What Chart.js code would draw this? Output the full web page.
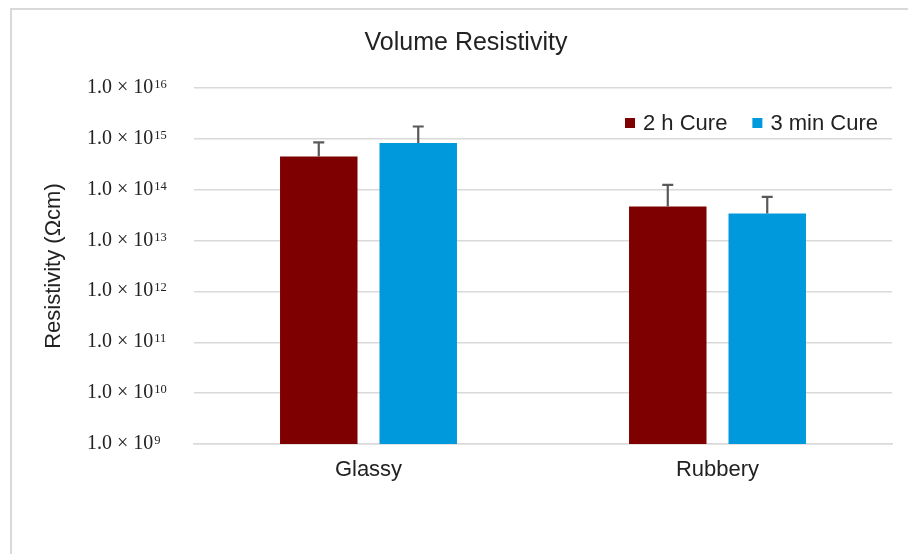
<!DOCTYPE html>
<html>
<head>
<meta charset="utf-8">
<script src="https://cdn.jsdelivr.net/npm/chart.js@4.4.1/dist/chart.umd.min.js"></script>
<style>
  html, body { margin: 0; padding: 0; background: #fff; }
  canvas { display: block; }
</style>
</head>
<body>
<canvas id="chart" width="908" height="554"></canvas>
<script>
// Volume resistivity (Ωcm) of the two cure schedules, glassy and rubbery state
const categories = ['Glassy', 'Rubbery'];
const seriesNames = ['2 h Cure', '3 min Cure'];
const cure2h = [4.5e14, 4.7e13];
const cure3min = [8.3e14, 3.4e13];
// positive standard deviation for each bar
const cure2hErr = [4.0e14, 7.8e13];
const cure3minErr = [9.2e14, 3.8e13];
// decades shown on the resistivity axis (10^n)
const tickExponents = [9, 10, 11, 12, 13, 14, 15, 16];
const seriesColors = ['#7f0000', '#0099db'];

const SANS = '"Liberation Sans", Arial, sans-serif';
const SERIF = '"Liberation Serif", "Times New Roman", serif';
const TEXT = '#222222';

// white page plus the light frame around the chart
const framePlugin = {
  id: 'frame',
  beforeDraw(chart) {
    const ctx = chart.ctx;
    ctx.save();
    ctx.fillStyle = '#ffffff';
    ctx.fillRect(0, 0, chart.width, chart.height);
    ctx.strokeStyle = '#d9d9d9';
    ctx.lineWidth = 2;
    ctx.strokeRect(11, 9, chart.width + 20, chart.height + 20);
    ctx.restore();
  }
};

// upward error bars with a cap
const errorBarPlugin = {
  id: 'errorBars',
  afterDatasetsDraw(chart) {
    const ctx = chart.ctx;
    const yScale = chart.scales.y;
    chart.data.datasets.forEach((ds, di) => {
      const meta = chart.getDatasetMeta(di);
      meta.data.forEach((bar, i) => {
        const top = yScale.getPixelForValue(ds.data[i] + ds.errorPlus[i]);
        ctx.save();
        ctx.strokeStyle = '#595959';
        ctx.lineWidth = 2.2;
        ctx.beginPath();
        ctx.moveTo(bar.x, bar.y);
        ctx.lineTo(bar.x, top);
        ctx.moveTo(bar.x - 5.5, top);
        ctx.lineTo(bar.x + 5.5, top);
        ctx.stroke();
        ctx.restore();
      });
    });
  }
};

// "1.0 × 10^n" tick labels with a raised exponent
const powerTickPlugin = {
  id: 'powerTicks',
  afterDraw(chart) {
    const ctx = chart.ctx;
    const yScale = chart.scales.y;
    const x0 = 87;
    ctx.save();
    ctx.fillStyle = TEXT;
    ctx.textAlign = 'left';
    ctx.textBaseline = 'alphabetic';
    tickExponents.forEach(e => {
      const py = yScale.getPixelForValue(Math.pow(10, e));
      const main = '1.0 × 10';
      ctx.font = '20px ' + SERIF;
      ctx.fillText(main, x0, py + 5);
      const w = ctx.measureText(main).width;
      ctx.font = '12.5px ' + SERIF;
      ctx.fillText(String(e), x0 + w + 1, py);
    });
    ctx.restore();
  }
};

// legend row inside the plot, top right
const legendRowPlugin = {
  id: 'legendRow',
  afterDraw(chart) {
    const ctx = chart.ctx;
    let x = 625;
    ctx.save();
    ctx.font = '22px ' + SANS;
    ctx.textAlign = 'left';
    ctx.textBaseline = 'alphabetic';
    chart.data.datasets.forEach(ds => {
      ctx.fillStyle = ds.backgroundColor;
      ctx.fillRect(x, 118, 10, 10);
      x += 18;
      ctx.fillStyle = TEXT;
      ctx.fillText(ds.label, x, 130);
      x += ctx.measureText(ds.label).width + 25;
    });
    ctx.restore();
  }
};

new Chart(document.getElementById('chart'), {
  type: 'bar',
  data: {
    labels: categories,
    datasets: [
      {
        label: seriesNames[0],
        data: cure2h,
        errorPlus: cure2hErr,
        backgroundColor: seriesColors[0],
        categoryPercentage: 0.57,
        barPercentage: 0.779
      },
      {
        label: seriesNames[1],
        data: cure3min,
        errorPlus: cure3minErr,
        backgroundColor: seriesColors[1],
        categoryPercentage: 0.57,
        barPercentage: 0.779
      }
    ]
  },
  options: {
    responsive: false,
    animation: false,
    devicePixelRatio: 1,
    layout: { padding: { left: 40, right: 16, top: 0, bottom: 0 } },
    plugins: {
      legend: { display: false },
      tooltip: { enabled: false },
      title: {
        display: true,
        text: 'Volume Resistivity',
        color: TEXT,
        font: { family: SANS, size: 25, weight: 'normal' },
        padding: { top: 28, bottom: 30 }
      }
    },
    scales: {
      x: {
        grid: { display: false, drawTicks: false },
        border: { display: true, color: '#d9d9d9', width: 1.5 },
        ticks: { color: TEXT, font: { family: SANS, size: 22 }, padding: 13 },
        afterFit(scale) { scale.height = 110; }
      },
      y: {
        type: 'logarithmic',
        min: 1e9,
        max: 1e16,
        afterBuildTicks(scale) {
          scale.ticks = tickExponents.map(e => ({ value: Math.pow(10, e), major: true }));
        },
        afterFit(scale) { scale.width = 154; },
        ticks: { display: false },
        grid: { color: '#d9d9d9', lineWidth: 1.5, drawTicks: false },
        border: { display: false },
        title: {
          display: true,
          text: 'Resistivity (Ωcm)',
          color: TEXT,
          font: { family: SANS, size: 22 },
          padding: { top: 1, bottom: 0 }
        }
      }
    }
  },
  plugins: [framePlugin, errorBarPlugin, powerTickPlugin, legendRowPlugin]
});
</script>
</body>
</html>
